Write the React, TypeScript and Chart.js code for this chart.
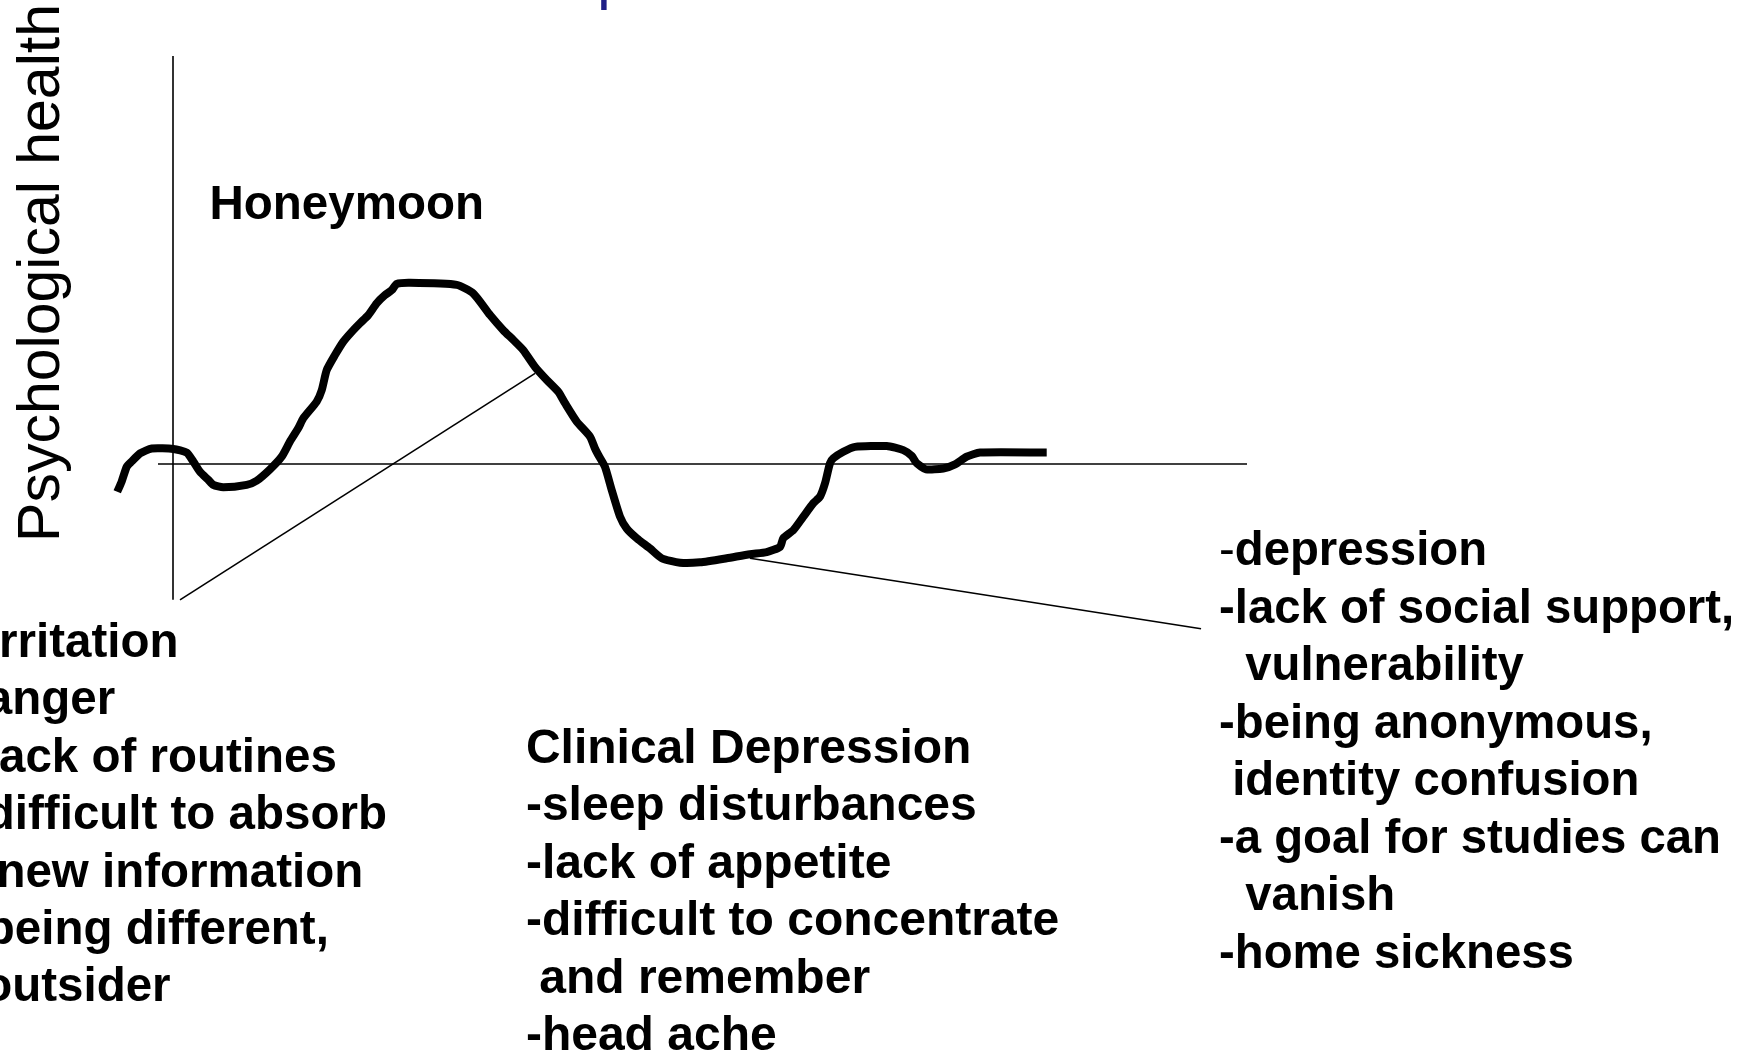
import React, { useEffect, useRef } from "react";
import { Chart, registerables } from "chart.js";

Chart.register(...registerables);

// ---- data (time units on x, psychological health on y) ----
const CURVE_X = [
  -5.19, -4.78, -4.31, -3.85, -3.07, -1.98, 0.03, 1.28, 1.89, 2.51, 3.29, 3.75, 4.68, 6.86, 7.79, 9.03,
  10.12, 10.89, 11.67, 12.13, 13.38, 13.85, 14.31, 15.08, 15.86, 16.64, 17.41, 18.18, 18.97, 19.74, 20.36,
  20.83, 22.07, 26.42, 27.96, 29.52, 30.75, 31.69, 32.62, 33.71, 34.8, 35.87, 36.5, 37.59, 38.83, 39.29,
  39.6, 40.22, 40.85, 41.62, 42.24, 43.18, 44.41, 45.5, 47.21, 49.07, 51.55, 53.72, 55.28, 56.52, 56.82,
  57.76, 58.69, 59.62, 60.24, 60.71, 61.17, 61.48, 62.41, 63.5, 66.45, 68.0, 68.78, 69.24, 70.11, 71.72,
  72.81, 73.9, 75.14, 81.35,
];
const CURVE_Y = [
  -0.68, -0.43, -0.07, 0.06, 0.26, 0.38, 0.37, 0.28, 0.06, -0.19, -0.39, -0.51, -0.57, -0.51, -0.41, -0.13,
  0.18, 0.55, 0.88, 1.12, 1.53, 1.81, 2.3, 2.67, 3.0, 3.24, 3.45, 3.65, 3.94, 4.14, 4.26,
  4.41, 4.44, 4.39, 4.18, 3.65, 3.28, 3.04, 2.79, 2.38, 2.06, 1.77, 1.49, 1.04, 0.67, 0.38,
  0.22, -0.07, -0.64, -1.29, -1.58, -1.82, -2.07, -2.31, -2.42, -2.41, -2.31, -2.21, -2.16, -2.03, -1.82,
  -1.62, -1.29, -0.96, -0.8, -0.47, 0.02, 0.14, 0.3, 0.42, 0.44, 0.34, 0.2, 0.02, -0.13, -0.11,
  -0.01, 0.18, 0.28, 0.28,
];

const H_AXIS_X = [-1.4, 100];
const H_AXIS_Y = [0, 0];
const V_AXIS_X = [0, 0];
const V_AXIS_Y = [10, -3.33];
const LEADER1_X = [0.65, 33.71];
const LEADER1_Y = [-3.33, 2.22];
const LEADER2_X = [53.72, 95.72];
const LEADER2_Y = [-2.31, -4.04];

// ---- texts ----
const TITLE_FRAGMENT = "p";
const Y_TITLE = "Psychological health";
const PEAK_LABEL = "Honeymoon";
const LEFT_LINES = [
  "-irritation",
  "-anger",
  "-lack of routines",
  "-difficult to absorb",
  "  new information",
  "-being different,",
  " outsider",
];
const MIDDLE_LINES = [
  "Clinical Depression",
  "-sleep disturbances",
  "-lack of appetite",
  "-difficult to concentrate",
  " and remember",
  "-head ache",
];
const RIGHT_LINES = [
  "-depression",
  "-lack of social support,",
  "  vulnerability",
  "-being anonymous,",
  " identity confusion",
  "-a goal for studies can",
  "  vanish",
  "-home sickness",
];

// ---- layout ----
const X_RANGE = [-16.108, 147.39];
const Y_RANGE = [-14.461, 11.373];
const FONT_FAMILY = '"Liberation Sans", Arial, Helvetica, sans-serif';
const LAYOUT = {
  title: { x: 39.48, y: 11.446, size: 62 },
  yTitle: { x: -10.61, y: -1.91, size: 59 },
  peak: { x: 3.4, y: 6.0, size: 47.5 },
  left: { x: -18.9, y: -4.72, size: 47.5 },
  middle: { x: 32.86, y: -7.32, size: 48 },
  right: { x: 97.39, y: -2.48, size: 47.3 },
  lineStep: 1.409,
};

function xy(xs: number[], ys: number[]) {
  return xs.map((x, i) => ({ x, y: ys[i] }));
}

const textPlugin = {
  id: "textAnnotations",
  beforeDraw(chart: any) {
    const { ctx, width, height } = chart;
    ctx.save();
    ctx.fillStyle = "#ffffff";
    ctx.fillRect(0, 0, width, height);
    ctx.restore();
  },
  afterDatasetsDraw(chart: any) {
    const { ctx } = chart;
    const xs = chart.scales.x;
    const ys = chart.scales.y;
    const px = (v: number) => xs.getPixelForValue(v);
    const py = (v: number) => ys.getPixelForValue(v);
    ctx.save();
    ctx.textAlign = "left";
    ctx.textBaseline = "alphabetic";

    // cut-off slide title fragment (only its descender is inside the page)
    ctx.fillStyle = "#1f1f86";
    ctx.font = `${LAYOUT.title.size}px ${FONT_FAMILY}`;
    ctx.fillText(TITLE_FRAGMENT, px(LAYOUT.title.x), py(LAYOUT.title.y));

    // y axis title
    ctx.fillStyle = "#000000";
    ctx.save();
    ctx.translate(px(LAYOUT.yTitle.x), py(LAYOUT.yTitle.y));
    ctx.rotate(-Math.PI / 2);
    ctx.font = `${LAYOUT.yTitle.size}px ${FONT_FAMILY}`;
    ctx.fillText(Y_TITLE, 0, 0);
    ctx.restore();

    const bold = (s: number) => `bold ${s}px ${FONT_FAMILY}`;
    ctx.font = bold(LAYOUT.peak.size);
    ctx.fillText(PEAK_LABEL, px(LAYOUT.peak.x), py(LAYOUT.peak.y));

    ctx.font = bold(LAYOUT.left.size);
    LEFT_LINES.forEach((t, i) => {
      ctx.fillText(t, px(LAYOUT.left.x), py(LAYOUT.left.y - i * LAYOUT.lineStep));
    });
    ctx.font = bold(LAYOUT.middle.size);
    MIDDLE_LINES.forEach((t, i) => {
      ctx.fillText(t, px(LAYOUT.middle.x), py(LAYOUT.middle.y - i * LAYOUT.lineStep));
    });
    RIGHT_LINES.forEach((t, i) => {
      const x0 = px(LAYOUT.right.x);
      const y0 = py(LAYOUT.right.y - i * LAYOUT.lineStep);
      if (i === 0 && t.startsWith("-")) {
        ctx.font = `${LAYOUT.right.size}px ${FONT_FAMILY}`;
        ctx.fillText("-", x0, y0);
        const w = ctx.measureText("-").width;
        ctx.font = bold(LAYOUT.right.size);
        ctx.fillText(t.slice(1), x0 + w, y0);
      } else {
        ctx.font = bold(LAYOUT.right.size);
        ctx.fillText(t, x0, y0);
      }
    });
    ctx.restore();
  },
};

export default function App() {
  const canvasRef = useRef<HTMLCanvasElement | null>(null);

  useEffect(() => {
    const canvas = canvasRef.current;
    if (!canvas) return;
    const thin = {
      showLine: true,
      borderColor: "#000000",
      borderWidth: 1.6,
      pointRadius: 0,
      tension: 0,
      clip: false as any,
    };
    const chart = new Chart(canvas, {
      type: "scatter",
      data: {
        datasets: [
          { ...thin, label: "horizontal axis", data: xy(H_AXIS_X, H_AXIS_Y) },
          { ...thin, label: "vertical axis", data: xy(V_AXIS_X, V_AXIS_Y) },
          { ...thin, label: "leader irritation", data: xy(LEADER1_X, LEADER1_Y) },
          { ...thin, label: "leader depression", data: xy(LEADER2_X, LEADER2_Y) },
          {
            label: "Psychological health",
            data: xy(CURVE_X, CURVE_Y),
            showLine: true,
            borderColor: "#000000",
            borderWidth: 8,
            pointRadius: 0,
            tension: 0.2,
            borderJoinStyle: "round",
            borderCapStyle: "butt",
            clip: false as any,
          } as any,
        ],
      },
      options: {
        animation: false,
        responsive: false,
        devicePixelRatio: 1,
        layout: { padding: 0 },
        plugins: {
          legend: { display: false },
          tooltip: { enabled: false },
          title: { display: false },
        },
        scales: {
          x: { type: "linear", display: false, min: X_RANGE[0], max: X_RANGE[1] },
          y: { type: "linear", display: false, min: Y_RANGE[0], max: Y_RANGE[1] },
        },
      },
      plugins: [textPlugin],
    });
    return () => chart.destroy();
  }, []);

  return (
    <div style={{ position: "absolute", left: 0, top: 0, width: 1756, height: 1054, overflow: "hidden", background: "#fff" }}>
      <canvas ref={canvasRef} width={1756} height={1054} style={{ display: "block", width: 1756, height: 1054 }} />
    </div>
  );
}
